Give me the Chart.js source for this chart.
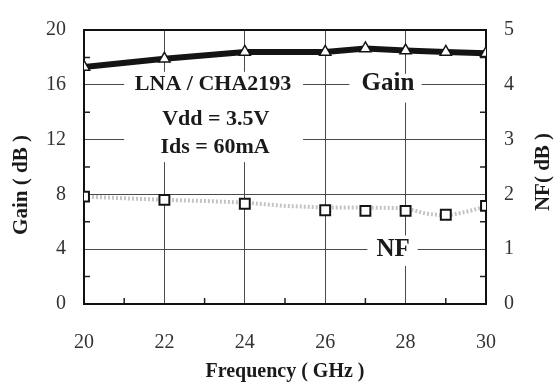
<!DOCTYPE html>
<html><head><meta charset="utf-8">
<script src="https://cdn.jsdelivr.net/npm/chart.js@4/dist/chart.umd.min.js"></script>
<style>html,body{margin:0;padding:0;background:#fff;overflow:hidden}#wrap{width:555px;height:392px;position:relative}</style>
</head><body><div id="wrap"><canvas id="c" width="555" height="392"></canvas></div>
<script>
// ---- data ----
const frequencies = [20, 22, 24, 26, 27, 28, 29, 30];
const gainDb = [17.3, 17.9, 18.4, 18.4, 18.65, 18.5, 18.4, 18.3];
const nfDb = [1.96, 1.90, 1.83, 1.71, 1.70, 1.70, 1.63, 1.79];
const nfTraceFreq = [20, 21, 22, 23, 24, 25, 26, 27, 28, 28.5, 29, 29.5, 30];
const nfTraceDb = [1.96, 1.93, 1.90, 1.88, 1.85, 1.79, 1.76, 1.76, 1.75, 1.65, 1.61, 1.68, 1.78];
const freqTicks = [20, 22, 24, 26, 28, 30];
const gainTicks = [0, 4, 8, 12, 16, 20];
const nfTicks = [0, 1, 2, 3, 4, 5];
const freqMinor = [21, 23, 25, 27, 29];
const gainMinor = [2, 6, 10, 14, 18];
const nfMinor = [0.5, 1.5, 2.5, 3.5, 4.5];

const SERIF = '"Liberation Serif", "DejaVu Serif", serif';
const INK = '#1a1a1a';

const notes = [
  {text: 'LNA / CHA2193', x: 23.21, y: 16.0},
  {text: 'Vdd = 3.5V', x: 23.28, y: 13.5},
  {text: 'Ids = 60mA', x: 23.26, y: 11.45},
  {text: 'Gain', x: 27.56, y: 16.1, size: 25},
  {text: 'NF', x: 27.69, y: 4.0, size: 25}
];
const noteBoxes = [
  {x0: 21.0, x1: 25.45, y0: 10.35, y1: 16.95},
  {x0: 26.6, x1: 28.4, y0: 14.7, y1: 16.8},
  {x0: 27.05, x1: 28.3, y0: 2.77, y1: 5.0}
];

const decor = {
  id: 'decor',
  beforeDatasetsDraw(chart) {
    const {ctx, chartArea: a, scales: {x, y, y1}} = chart;
    ctx.save();
    ctx.fillStyle = '#fff';
    noteBoxes.forEach(b => {
      const l = x.getPixelForValue(b.x0), r = x.getPixelForValue(b.x1);
      const t = y.getPixelForValue(b.y1), btm = y.getPixelForValue(b.y0);
      ctx.fillRect(l, t, r - l, btm - t);
    });
    ctx.strokeStyle = '#222'; ctx.lineWidth = 1.5;
    ctx.beginPath();
    gainMinor.forEach(v => { const p = y.getPixelForValue(v); ctx.moveTo(a.left, p); ctx.lineTo(a.left + 6, p); });
    nfMinor.forEach(v => { const p = y1.getPixelForValue(v); ctx.moveTo(a.right - 6, p); ctx.lineTo(a.right, p); });
    freqMinor.forEach(v => { const p = x.getPixelForValue(v); ctx.moveTo(p, a.bottom); ctx.lineTo(p, a.bottom - 6); });
    ctx.stroke();
    ctx.strokeStyle = '#111'; ctx.lineWidth = 2;
    ctx.strokeRect(a.left, a.top, a.right - a.left, a.bottom - a.top);
    ctx.fillStyle = INK;
    ctx.textAlign = 'center'; ctx.textBaseline = 'middle';
    notes.forEach(n => {
      ctx.font = 'bold ' + (n.size || 22) + 'px ' + SERIF;
      ctx.fillText(n.text, x.getPixelForValue(n.x), y.getPixelForValue(n.y));
    });
    ctx.restore();
  },
  afterDraw(chart) {
    const {ctx} = chart;
    [['Gain ( dB )', 22, 185], ['NF( dB )', 544, 172]].forEach(([t, cx, cy]) => {
      ctx.save();
      ctx.fillStyle = INK;
      ctx.font = 'bold 21px ' + SERIF;
      ctx.textAlign = 'center'; ctx.textBaseline = 'middle';
      ctx.translate(cx, cy); ctx.rotate(-Math.PI / 2);
      ctx.fillText(t, 0, 0);
      ctx.restore();
    });
  }
};

const tickFont = {family: SERIF, size: 20};
const gridOpts = {color: '#4a4a4a', lineWidth: 1, drawTicks: false};

new Chart(document.getElementById('c'), {
  type: 'line',
  data: {
    datasets: [
      {
        label: 'Gain',
        data: frequencies.map((f, i) => ({x: f, y: gainDb[i]})),
        yAxisID: 'y',
        borderColor: '#141414', borderWidth: 6,
        pointStyle: 'triangle', pointRadius: 6.5,
        pointBackgroundColor: '#fff', pointBorderColor: '#141414', pointBorderWidth: 1.5,
        order: 1
      },
      {
        label: 'NF',
        data: frequencies.map((f, i) => ({x: f, y: nfDb[i]})),
        yAxisID: 'y1', showLine: false,
        pointStyle: 'rect', pointRadius: 7,
        pointBackgroundColor: '#fff', pointBorderColor: '#141414', pointBorderWidth: 2,
        order: 2
      },
      {
        label: 'NF trace',
        data: nfTraceFreq.map((f, i) => ({x: f, y: nfTraceDb[i]})),
        yAxisID: 'y1',
        borderColor: '#c4c4c4', borderWidth: 4, borderDash: [2, 2],
        pointRadius: 0,
        order: 3
      }
    ]
  },
  options: {
    responsive: false, animation: false, devicePixelRatio: 1,
    layout: {padding: {top: 22, left: 0, right: 0, bottom: 0}},
    plugins: {legend: {display: false}, tooltip: {enabled: false}},
    scales: {
      x: {
        type: 'linear', position: 'bottom', min: 20, max: 30,
        afterBuildTicks: s => { s.ticks = freqTicks.map(v => ({value: v})); },
        afterFit: s => { s.height = 88; },
        grid: gridOpts, border: {display: false},
        ticks: {font: tickFont, color: '#333', padding: 27},
        title: {display: true, text: 'Frequency ( GHz )', color: INK,
          font: {family: SERIF, size: 20, weight: 'bold'}, padding: {top: 0, bottom: 8}}
      },
      y: {
        type: 'linear', position: 'left', min: 0, max: 20,
        afterBuildTicks: s => { s.ticks = gainTicks.map(v => ({value: v})); },
        afterFit: s => { s.width = 84; },
        grid: gridOpts, border: {display: false},
        ticks: {font: tickFont, color: '#333', padding: 18}
      },
      y1: {
        type: 'linear', position: 'right', min: 0, max: 5,
        afterBuildTicks: s => { s.ticks = nfTicks.map(v => ({value: v})); },
        afterFit: s => { s.width = 69; },
        grid: {display: false, drawTicks: false}, border: {display: false},
        ticks: {font: tickFont, color: '#333', padding: 18}
      }
    }
  },
  plugins: [decor]
});
</script>
</body></html>
